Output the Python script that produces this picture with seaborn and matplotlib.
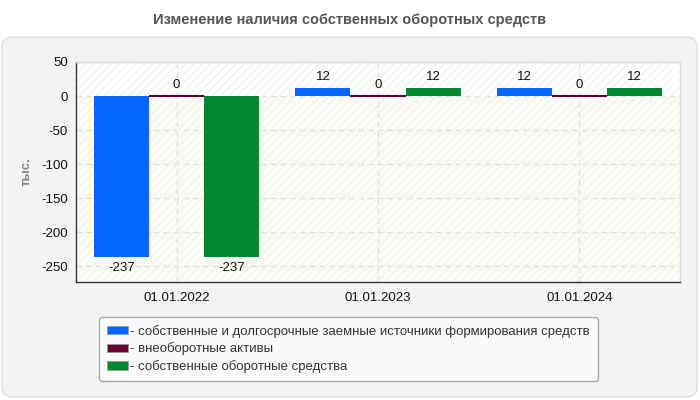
import matplotlib
matplotlib.use('Agg')
import matplotlib.pyplot as plt
import matplotlib.patches as mpatches
import seaborn as sns
import pandas as pd

dates = ['01.01.2022', '01.01.2023', '01.01.2024']
series = [
    '- собственные и долгосрочные заемные источники формирования средств',
    '- внеоборотные активы',
    '- собственные оборотные средства',
]
own_long_term = [-237, 12, 12]
non_current = [0, 0, 0]
working_capital = [-237, 12, 12]
colors = ['#0066ff', '#660033', '#00882f']

df = pd.DataFrame({
    'date': dates * 3,
    'series': [series[0]] * 3 + [series[1]] * 3 + [series[2]] * 3,
    'value': own_long_term + non_current + working_capital,
})

sns.set_style('white')
plt.rcParams['font.family'] = ['Liberation Sans', 'DejaVu Sans']
plt.rcParams['axes.unicode_minus'] = False

fig = plt.figure(figsize=(7, 4), dpi=100)
fig.patch.set_facecolor('white')

# outer rounded panel
panel = mpatches.FancyBboxPatch((2, 3), 695, 360, boxstyle='round,pad=0,rounding_size=10',
                                facecolor='#f3f3f3', edgecolor='#dddddd', linewidth=1,
                                transform=None, zorder=-5)
fig.patches.append(panel)

fig.text(0.5, 0.95, 'Изменение наличия собственных оборотных средств', ha='center', va='center',
         fontsize=10.5, fontweight='bold', color='#555555')

ax = fig.add_axes([76 / 700, 118 / 400, 604 / 700, 220 / 400])
ax.set_facecolor('#fcfcf7')
ax.patch.set_zorder(0)

sns.barplot(data=df, x='date', y='value', hue='series', palette=colors, width=0.82,
            gap=0, saturation=1, legend=False, ax=ax, zorder=3)

for bar_group, col in zip(ax.containers, colors):
    for bar in bar_group:
        bar.set_edgecolor(col)
        bar.set_linewidth(1.5 if bar.get_height() == 0 else 0)
    labels = [f'{v:g}' for v in bar_group.datavalues]
    ax.bar_label(bar_group, labels=labels, padding=3.5, fontsize=9.5, color='#111111')

ax.set_ylim(-273, 50)
ax.set_xlim(-0.5, 2.5)
ax.set_yticks([50, 0, -50, -100, -150, -200, -250])
ax.axhspan(0, 50, facecolor='white', zorder=0.5)
ax.add_patch(mpatches.Rectangle((0, 0), 1, 1, transform=ax.transAxes, facecolor='none',
                                edgecolor='#f2f2f2', hatch='////', linewidth=0, zorder=0.6))
ax.grid(True, axis='both', linestyle=(0, (4, 3)), color='#dddddd', linewidth=1, zorder=1)
ax.set_axisbelow(True)

ax.set_xlabel('')
ax.set_ylabel('тыс.', fontsize=9.5, fontweight='bold', color='#888888', labelpad=6)
ax.tick_params(axis='both', labelsize=9.5, colors='#111111', length=4, width=1, direction='out')
ax.tick_params(axis='y', pad=2)
for side in ['left', 'bottom']:
    ax.spines[side].set_color('#333333')
    ax.spines[side].set_linewidth(1)
for side in ['top', 'right']:
    ax.spines[side].set_color('#dddddd')
    ax.spines[side].set_linewidth(1)

handles = [mpatches.Patch(facecolor=c, edgecolor='#999999', linewidth=0.5) for c in colors]
leg = fig.legend(handles, series, loc='upper left', bbox_to_anchor=(99 / 700, 1 - 317 / 400),
                 fontsize=9.5, frameon=True, fancybox=True, handlelength=1.6, handleheight=0.6,
                 handletextpad=0.15, labelspacing=0.35, borderpad=0.6, borderaxespad=0)
leg.get_frame().set_facecolor('#fafafa')
leg.get_frame().set_edgecolor('#aaaaaa')
leg.get_frame().set_alpha(1)
for t in leg.get_texts():
    t.set_color('#333333')

fig.savefig('out.png', dpi=100)
